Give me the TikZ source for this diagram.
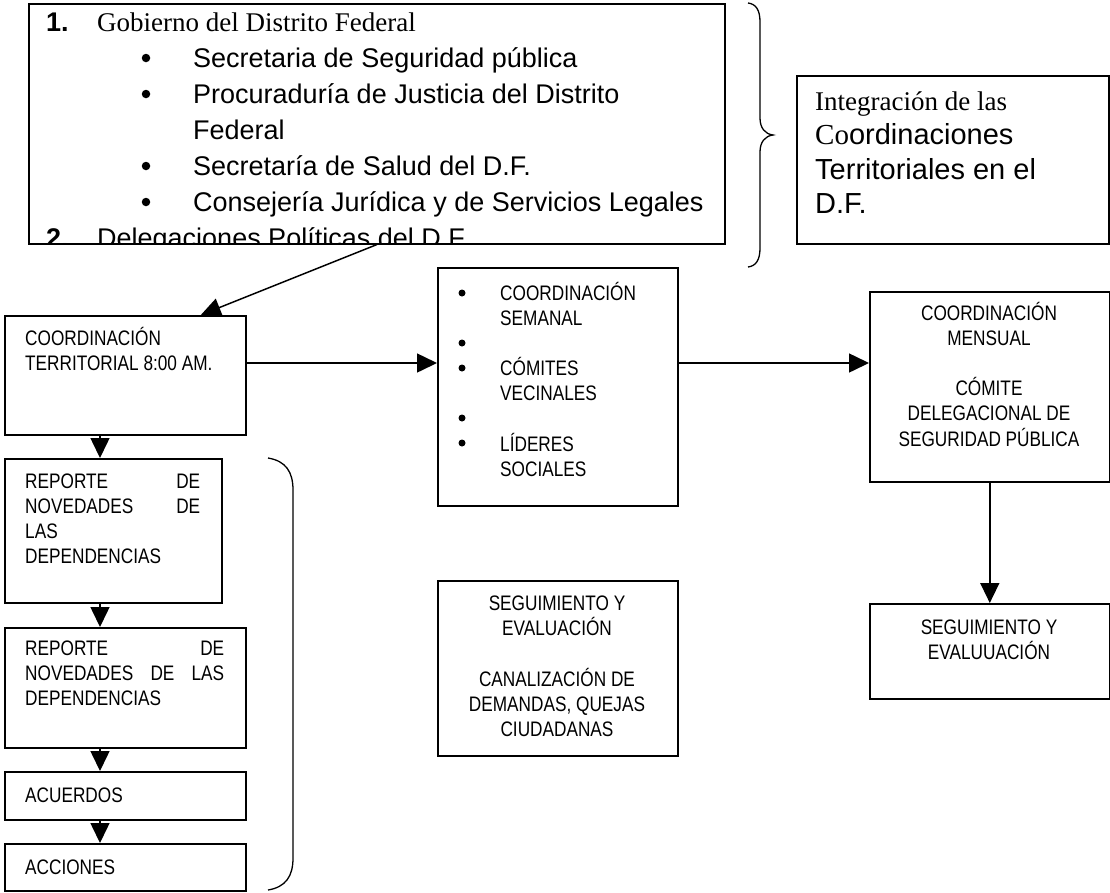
\documentclass[tikz,border=0pt]{standalone}
\usepackage{fontspec}
\setmainfont{Liberation Serif}
\newfontfamily\arial{Liberation Sans}
\newfontfamily\narrow[FakeStretch=0.82]{Liberation Sans}
\usetikzlibrary{arrows.meta,calc}
\begin{document}
\begin{tikzpicture}[x=1pt,y=-1pt,
  box/.style={draw, line width=1.6pt, inner sep=0pt, anchor=north west},
  lab/.style={inner sep=0pt, anchor=base west, font=\narrow\fontsize{21}{25}\selectfont},
  clab/.style={lab, anchor=base},
  big/.style={inner sep=0pt, anchor=base west, font=\arial\fontsize{27}{30}\selectfont},
  dot/.style={circle, fill, inner sep=0pt, minimum size=7pt},
  bdot/.style={circle, fill, inner sep=0pt, minimum size=8.5pt},
  arr/.style={line width=1.5pt, -{Triangle[length=20pt,width=19pt]}},
  brace/.style={line width=1.3pt},
]
\useasboundingbox (0,0) rectangle (1110,892);

% ---- top list box
\node[box, minimum width=696pt, minimum height=240pt] (gdf) at (28,3) {};
\begin{scope}
\clip (gdf.south west) rectangle (gdf.north east);
\node[big] (n1) at (46,31) {\bfseries 1.};
\node[big, font=\rmfamily\fontsize{27}{30}\selectfont] (g0) at (97,31) {Gobierno del Distrito Federal};
\node[bdot] (b1) at (146,58) {};
\node[big] (g1) at (193,67) {Secretaria de Seguridad pública};
\node[bdot] (b2) at (146,94) {};
\node[big] (g2) at (193,103) {Procuraduría de Justicia del Distrito};
\node[big] (g2b) at (193,139) {Federal};
\node[bdot] (b3) at (146,166) {};
\node[big] (g3) at (193,175) {Secretaría de Salud del D.F.};
\node[bdot] (b4) at (146,202) {};
\node[big] (g4) at (193,211) {Consejería Jurídica y de Servicios Legales};
\node[big] (n2) at (46,247) {\bfseries 2.};
\node[big] (g5) at (97,247) {Delegaciones Políticas del D.F.};
\end{scope}

% ---- brace 1
\draw[brace] (748,3) .. controls (756,4) and (760,10) .. (760,22) -- (760,118)
  .. controls (760,128) and (765,134) .. (773,135)
  .. controls (765,136) and (760,142) .. (760,152) -- (760,248)
  .. controls (760,260) and (756,266) .. (748,267);

% ---- integration box
\node[box, minimum width=312pt, minimum height=168pt] (integ) at (796,75) {};
\node[big, font=\rmfamily\fontsize{27}{30}\selectfont] (i1) at (815,110) {Integración de las};
\node[big, font=\fontsize{29}{30}\selectfont] (i2) at (815,144.5) {{\rmfamily Co}{\arial ordinaciones}};
\node[big, font=\arial\fontsize{29}{30}\selectfont] (i3) at (815,179) {Territoriales en el};
\node[big, font=\arial\fontsize{29}{30}\selectfont] (i4) at (815,213.5) {D.F.};

% ---- coordinacion territorial
\node[box, minimum width=241pt, minimum height=119pt] (coord) at (4,315) {};
\node[lab] (ct) at (25,345.5) {\begin{tabular}[t]{@{}l@{}}COORDINACIÓN\\TERRITORIAL 8:00 AM.\end{tabular}};

% ---- middle box
\node[box, minimum width=240pt, minimum height=238pt] (mid) at (437,267) {};
\node[lab] (mt) at (500,300) {\begin{tabular}[t]{@{}l@{}}COORDINACIÓN\\SEMANAL\\ \\CÓMITES\\VECINALES\\ \\LÍDERES\\SOCIALES\end{tabular}};
\node[dot] (mb1) at (462,293) {};
\node[dot] (mb2) at (462,343) {};
\node[dot] (mb3) at (462,368) {};
\node[dot] (mb4) at (462,418) {};
\node[dot] (mb5) at (462,443) {};

% ---- right box
\node[box, minimum width=240pt, minimum height=190pt] (right) at (869,291) {};
\node[clab] (rt) at (989,320) {\begin{tabular}[t]{@{}c@{}}COORDINACIÓN\\MENSUAL\\ \\CÓMITE\\DELEGACIONAL DE\\SEGURIDAD PÚBLICA\end{tabular}};

% ---- left column
\node[box, minimum width=217pt, minimum height=144pt] (rep1) at (4,458) {};
\node[lab] (r1t) at (25,488) {\begin{tabular}[t]{@{}l@{}}\makebox[175pt][s]{REPORTE\hfill DE}\\\makebox[175pt][s]{NOVEDADES\hfill DE}\\LAS\\DEPENDENCIAS\end{tabular}};
\node[box, minimum width=241pt, minimum height=120pt] (rep2) at (4,627) {};
\node[lab] (r2t) at (25,655) {\begin{tabular}[t]{@{}l@{}}\makebox[199pt][s]{REPORTE\hfill DE}\\\makebox[199pt][s]{NOVEDADES\hfill DE\hfill LAS}\\DEPENDENCIAS\end{tabular}};
\node[box, minimum width=241pt, minimum height=48pt] (acu) at (4,771) {};
\node[lab] (acut) at (25,802) {ACUERDOS};
\node[box, minimum width=241pt, minimum height=47pt] (acc) at (4,843) {};
\node[lab] (acct) at (25,874) {ACCIONES};

% ---- brace 2
\draw[brace] (268,458) .. controls (286,461) and (293,472) .. (293,490) -- (293,858)
  .. controls (293,876) and (286,887) .. (268,890);

% ---- seguimiento boxes
\node[box, minimum width=240pt, minimum height=175pt] (segm) at (437,580) {};
\node[clab] (smt) at (557,610) {\begin{tabular}[t]{@{}c@{}}SEGUIMIENTO Y\\EVALUACIÓN\\ \\CANALIZACIÓN DE\\DEMANDAS, QUEJAS\\CIUDADANAS\end{tabular}};
\node[box, minimum width=240pt, minimum height=95pt] (segr) at (869,603) {};
\node[clab] (srt) at (989,634) {\begin{tabular}[t]{@{}c@{}}SEGUIMIENTO Y\\EVALUUACIÓN\end{tabular}};

% ---- connectors
\coordinate (hy) at (0,363);
\coordinate (vx) at (100,0);
\draw[arr] (gdf.south) -- ([xshift=75.5pt]coord.north);
\draw[arr] (coord.east |- hy) -- (mid.west |- hy);
\draw[arr] (mid.east |- hy) -- (right.west |- hy);
\draw[arr] (right.south) -- (segr.north);
\draw[arr] (coord.south -| vx) -- (rep1.north -| vx);
\draw[arr] (rep1.south -| vx) -- (rep2.north -| vx);
\draw[arr] (rep2.south -| vx) -- (acu.north -| vx);
\draw[arr] (acu.south -| vx) -- (acc.north -| vx);
\end{tikzpicture}
\end{document}
